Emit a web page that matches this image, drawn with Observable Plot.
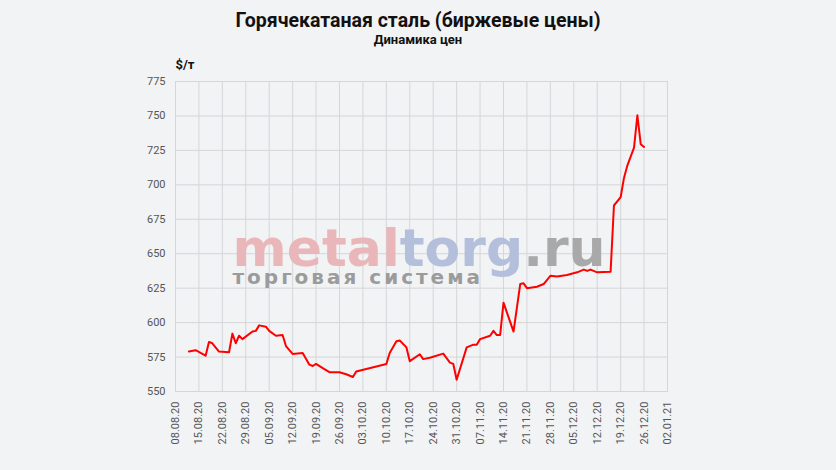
<!DOCTYPE html>
<html><head><meta charset="utf-8">
<script src="https://cdn.jsdelivr.net/npm/d3@7"></script>
<script src="https://cdn.jsdelivr.net/npm/@observablehq/plot@0.6"></script>
<style>
body{margin:0;background:#f1f3f5;font-family:Roboto,sans-serif;}
#wrap{width:836px;height:470px;background:#f1f3f5;overflow:hidden;}
#title{height:48px;text-align:center;color:#111;}
.t1{font-size:19.5px;font-weight:700;padding-top:10px;line-height:22px;}
.t2{font-size:13px;font-weight:700;line-height:15px;}
</style></head><body>
<div id="wrap">
<div id="title"><div class="t1">Горячекатаная сталь (биржевые цены)</div><div class="t2">Динамика цен</div></div>
<div id="chart"></div>
</div>
<script>
const dates = [
 "2020-08-12","2020-08-14","2020-08-17","2020-08-18","2020-08-19","2020-08-21","2020-08-24","2020-08-25",
 "2020-08-26","2020-08-27","2020-08-28","2020-08-31","2020-09-01","2020-09-02","2020-09-04","2020-09-05",
 "2020-09-07","2020-09-09","2020-09-10","2020-09-12","2020-09-15","2020-09-17","2020-09-18","2020-09-19",
 "2020-09-21","2020-09-23","2020-09-26","2020-09-28","2020-09-30","2020-10-01","2020-10-10","2020-10-11",
 "2020-10-13","2020-10-14","2020-10-16","2020-10-17","2020-10-20","2020-10-21","2020-10-23","2020-10-27",
 "2020-10-29","2020-10-30","2020-10-31","2020-11-03","2020-11-05","2020-11-06","2020-11-07","2020-11-10",
 "2020-11-11","2020-11-12","2020-11-13","2020-11-14","2020-11-17","2020-11-19","2020-11-20","2020-11-21",
 "2020-11-24","2020-11-26","2020-11-28","2020-11-30","2020-12-03","2020-12-06","2020-12-08","2020-12-09",
 "2020-12-10","2020-12-12","2020-12-16","2020-12-17","2020-12-19","2020-12-20","2020-12-21","2020-12-23",
 "2020-12-24","2020-12-25","2020-12-26"
];
const prices = [
 579,580,576,586,585,579,578.5,592,
 585,590.5,588,593.5,594,598,597,594,
 590.5,591,583,577.3,578,569.5,568.5,570,
 567,564,564,562.5,560.5,564.5,570,578,
 586.5,587,582,572,577,573.5,574.5,577.5,
 571,570,558.5,582,584,584,588,590.5,
 594,591,591,614.5,593.5,628,628.5,625,
 626,628,634,633.5,634.5,636.5,638.5,637.5,
 638.5,636.5,637,685,691,705,714,727,
 750.5,729.5,727.5
];
const tickLabels = ["08.08.20","15.08.20","22.08.20","29.08.20","05.09.20","12.09.20","19.09.20","26.09.20",
 "03.10.20","10.10.20","17.10.20","24.10.20","31.10.20","07.11.20","14.11.20","21.11.20","28.11.20",
 "05.12.20","12.12.20","19.12.20","26.12.20","02.01.21"];
const yTicks = [550,575,600,625,650,675,700,725,750,775];

const parse = d3.utcParse("%d.%m.%y");
const xTicks = tickLabels.map(parse);
const data = dates.map((d,i)=>({date:new Date(d+"T00:00:00Z"), price:prices[i]}));

const chart = Plot.plot({
  width:836, height:422,
  marginLeft:175, marginRight:169, marginTop:33, marginBottom:79,
  style:{background:"transparent", fontFamily:"Roboto, sans-serif", fontSize:"11px", color:"#555"},
  x:{type:"utc", domain:[xTicks[0], xTicks[xTicks.length-1]]},
  y:{domain:[550,775]},
  marks:[
    Plot.gridX(xTicks,{stroke:"#d4d6d8", strokeOpacity:1}),
    Plot.gridY(yTicks,{stroke:"#d4d6d8", strokeOpacity:1}),
    Plot.frame({stroke:"#d4d6d8"}),
    Plot.text(["metaltorg.ru"],{frameAnchor:"top-left", dx:57, dy:184, lineAnchor:"bottom", textAnchor:"start",
      fontFamily:"DejaVu Sans", fontWeight:"bold", fontSize:52, fill:"#aaa"}),
    Plot.text(["торговая система"],{frameAnchor:"top-left", dx:57, dy:196, lineAnchor:"middle", textAnchor:"start",
      fontFamily:"DejaVu Sans", fontWeight:"bold", fontSize:20, fill:"#9b9b9b"}),
    Plot.axisX(xTicks,{tickFormat:(d,i)=>tickLabels[i], tickRotate:-90, tickSize:0, tickPadding:10, label:null, fill:"#555"}),
    Plot.axisY(yTicks,{tickSize:0, tickPadding:10, label:null, fill:"#555"}),
    Plot.line(data,{x:"date", y:"price", stroke:"#ff0000", strokeWidth:2}),
    Plot.text(["$/т"],{frameAnchor:"top-left", dy:-22, textAnchor:"start", fontWeight:"bold", fontSize:13, fill:"#111"})
  ]
});
document.getElementById("chart").appendChild(chart);

// colour the watermark parts
const svg = d3.select(chart);
svg.selectAll("text").filter(function(){return this.textContent==="metaltorg.ru";}).each(function(){
  const t = d3.select(this); t.text("");
  t.append("tspan").attr("fill","#e9b6b9").text("metal");
  t.append("tspan").attr("fill","#b4bfdc").text("torg");
  t.append("tspan").attr("fill","#a9a9a9").text(".ru");
});
svg.selectAll("text").filter(function(){return this.textContent==="торговая система";}).attr("letter-spacing","3px");
</script>
</body></html>
